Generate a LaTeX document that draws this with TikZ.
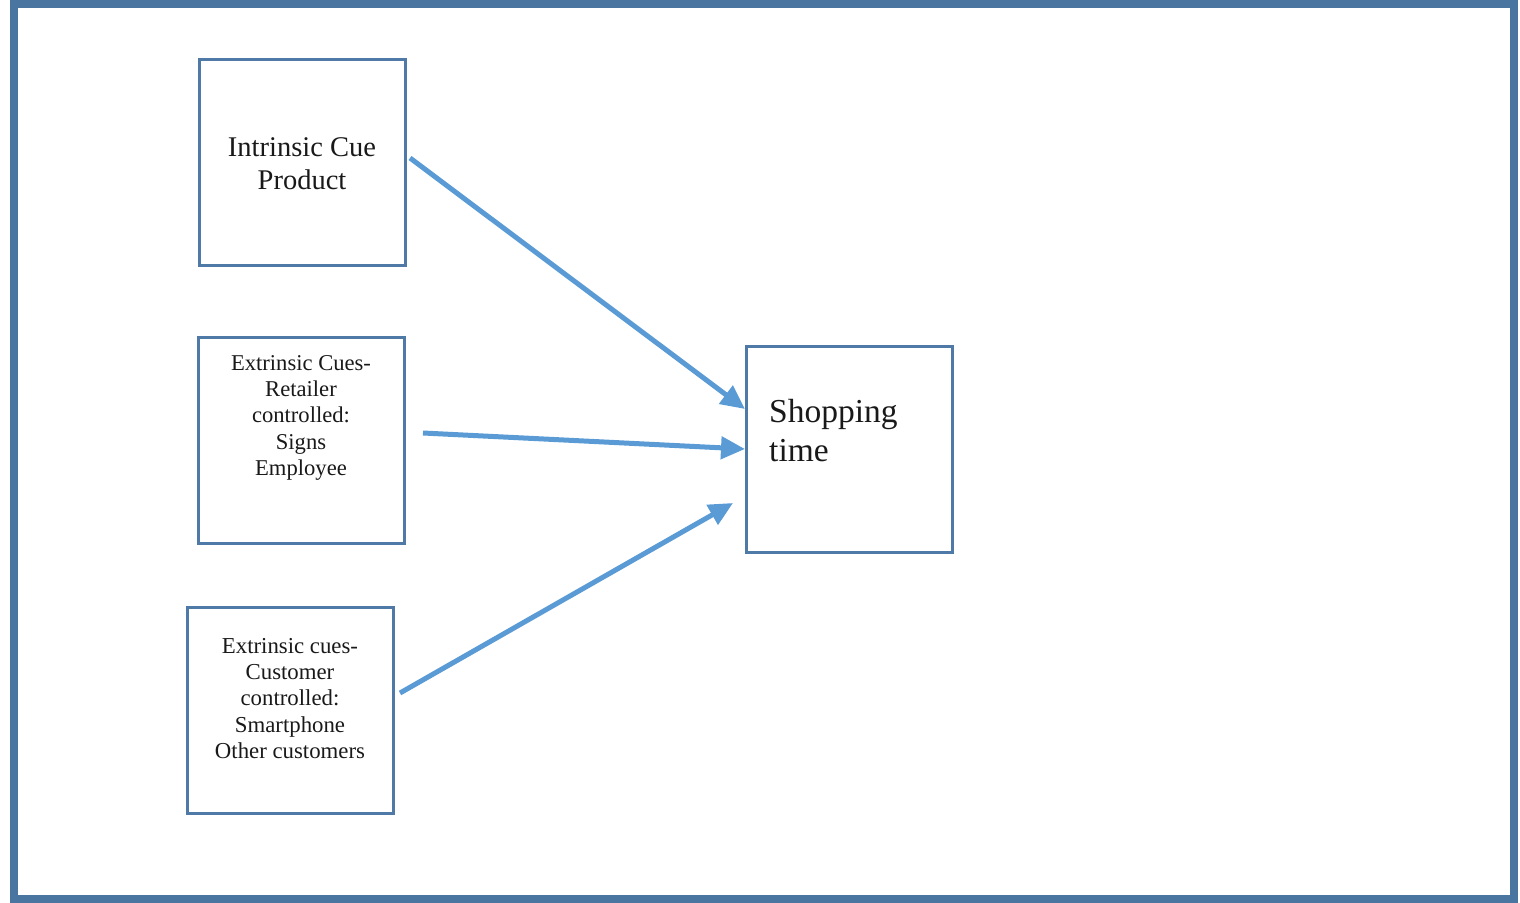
\documentclass[tikz,border=0pt]{standalone}
\usepackage{fontspec}
\setmainfont{Liberation Serif}
\usetikzlibrary{arrows.meta}
\definecolor{framecol}{RGB}{74,117,160}
\definecolor{boxcol}{RGB}{79,121,166}
\definecolor{arrowcol}{RGB}{91,155,213}
\tikzset{
  cuebox/.style={draw=boxcol, line width=3pt, minimum width=206pt, minimum height=206pt, inner sep=0pt},
  cuetext/.style={inner sep=0pt, anchor=north, align=center, text=black!90},
  flow/.style={draw=arrowcol, line width=5pt, -{Triangle[length=24pt,width=22pt]}},
}
\begin{document}
\begin{tikzpicture}[x=1pt,y=-1pt]
\useasboundingbox (0,0) rectangle (1520,902);
\draw[framecol, line width=8pt] (14,4) rectangle (1514,899);
% boxes
\node[cuebox] (b1) at (302,162) {};
\node[cuebox] (b2) at (301,440) {};
\node[cuebox] (b3) at (290,710) {};
\node[cuebox] (b4) at (849,449) {};
% texts
\node[cuetext, font=\fontsize{28.5}{33}\selectfont] (t1) at (302,137) {Intrinsic Cue\\Product};
\node[cuetext, font=\fontsize{22.6}{26.4}\selectfont] (t2) at (301,355) {Extrinsic Cues-\\Retailer\\controlled:\\Signs\\Employee};
\node[cuetext, font=\fontsize{22.8}{26.3}\selectfont] (t3) at (290,638) {Extrinsic cues-\\Customer\\controlled:\\Smartphone\\Other customers};
\node[cuetext, anchor=north west, align=left, font=\fontsize{33.5}{39.5}\selectfont] (t4) at (769,399) {Shopping\\time};
% connector ends
\coordinate (s1) at (410,158);
\coordinate (e1) at (745,409);
\coordinate (s2) at (423,433);
\coordinate (e2) at (745,449);
\coordinate (s3) at (400,693);
\coordinate (e3) at (733,503);
\draw[flow] (s1) -- (e1);
\draw[flow] (s2) -- (e2);
\draw[flow] (s3) -- (e3);
\end{tikzpicture}
\end{document}
